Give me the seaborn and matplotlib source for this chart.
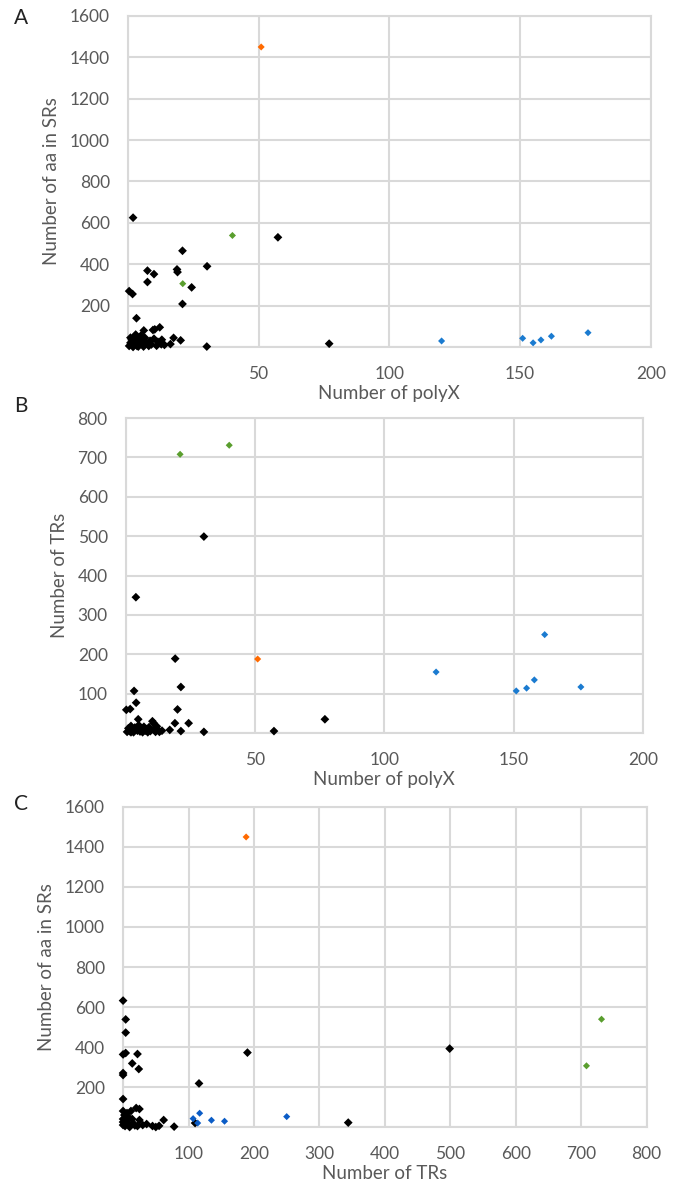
import numpy as np
import pandas as pd
import matplotlib as mpl
import matplotlib.pyplot as plt
import seaborn as sns

# coloured proteins, same in all three panels
orange_polyx = [51]
orange_trs = [188]
orange_aa = [1450]

green_polyx = [21, 40]
green_trs = [708, 731]
green_aa = [306, 539]

blue_polyx = [120, 151, 155, 158, 162, 176]
blue_trs = [155, 107, 114, 135, 250, 117]
blue_aa = [29, 42, 20, 34, 52, 69]

# black points, read per panel
a_polyx = [2, 57.4, 20.9, 30.3, 7.5, 10, 18.8, 19, 7.5, 24.4, 20.9, 0.5, 1.8, 3.3, 6.1,
           9.6, 10.3, 12.2, 17.5, 20.2, 16.3, 12.8, 30.2, 77,
           0.5, 1, 1.5, 2, 2.5, 3, 3.5, 4, 4.5, 5, 5.5, 6, 6.5, 7, 8, 8.5, 9, 10, 11,
           11.5, 13, 14, 3, 1, 2, 4, 6]
a_aa = [625, 530, 465, 390, 369, 352, 375, 362, 314, 288, 208, 270, 256, 139, 80,
        82, 85, 95, 44, 32, 14, 13, 2, 16,
        5, 20, 35, 10, 50, 25, 5, 40, 15, 55, 30, 8, 45, 20, 5, 30, 12, 40, 6,
        25, 35, 10, 60, 45, 0, 2, 2]

b_polyx = [30.2, 3.9, 19.1, 3.2, 21.3, 4, 0.2, 1.7, 20, 4.8, 10.3, 10.8, 19, 24.3,
           17, 21.3, 30.2, 57.3, 77,
           0.5, 1, 1.5, 2, 2.5, 3, 3.5, 4.5, 5, 5.5, 6, 6.5, 7, 7.5, 8, 8.5, 9, 9.5,
           11, 11.5, 12, 12.5, 13, 14, 2, 6]
b_trs = [499, 345, 189, 107, 117, 77, 59, 61, 60, 35, 30, 25, 25, 25,
         8, 5, 3, 5, 35,
         3, 12, 5, 18, 8, 2, 14, 6, 20, 4, 12, 2, 16, 6, 10, 2, 15, 5,
         10, 3, 17, 8, 3, 6, 2, 6]

c_trs = [0, 4, 4, 0, 4, 22, 14, 24, 0, 0, 190, 116, 0, 55, 62, 78, 25, 36, 110, 499, 344,
         20, 25, 12, 0, 2, 8, 0, 5, 15, 0, 3, 10, 18, 22, 0, 6, 14, 2, 9, 30, 45, 50]
c_aa = [632, 538, 472, 363, 370, 365, 318, 290, 270, 260, 372, 218, 140, 6, 35, 2, 35, 15, 20, 392, 22,
        95, 90, 80, 80, 60, 50, 40, 30, 20, 10, 5, 0, 8, 5, 25, 70, 40, 15, 12, 10, 5, 0]

colors = {"black": "#000000", "orange": "#FF6A00", "green": "#5A9E2E", "blue": "#1B7BD0"}
sizes = {"black": 20, "orange": 13, "green": 13, "blue": 13}
grey = "#D9D9D9"
text_grey = "#595959"


def build_frame(black_x, black_y, ox, oy, gx, gy, bx, by):
    return pd.concat([pd.DataFrame({"x": black_x, "y": black_y, "group": "black"}),
                      pd.DataFrame({"x": ox, "y": oy, "group": "orange"}),
                      pd.DataFrame({"x": gx, "y": gy, "group": "green"}),
                      pd.DataFrame({"x": bx, "y": by, "group": "blue"})], ignore_index=True)


def draw_panel(ax, df, xmax, xstep, ymax, ystep, xlabel, ylabel, blue_color):
    pal = dict(colors)
    pal["blue"] = blue_color
    sns.scatterplot(data=df, x="x", y="y", hue="group", palette=pal, size="group",
                    sizes=sizes, marker="D", linewidth=0, legend=False, ax=ax,
                    clip_on=False, zorder=3)
    ax.set_xlim(0, xmax)
    ax.set_ylim(0, ymax)
    xt = np.arange(0, xmax + 1, xstep)
    yt = np.arange(0, ymax + 1, ystep)
    ax.set_xticks(xt)
    ax.set_yticks(yt)
    ax.set_xticklabels([""] + [str(int(v)) for v in xt[1:]])
    ax.set_yticklabels([""] + [str(int(v)) for v in yt[1:]])
    ax.grid(True, color=grey, linewidth=1.5)
    ax.set_axisbelow(True)
    for sp in ax.spines.values():
        sp.set_color(grey)
        sp.set_linewidth(1.5)
    ax.tick_params(length=0, labelsize=12.5, colors=text_grey)
    ax.tick_params(axis="x", pad=14)
    ax.tick_params(axis="y", pad=13)
    ax.set_xlabel(xlabel, fontsize=13.5, color=text_grey, labelpad=2)
    ax.set_ylabel(ylabel, fontsize=13.5, color=text_grey, labelpad=7)


sns.set_style("white")
mpl.rcParams["font.family"] = ["Lato", "DejaVu Sans"]

fig = plt.figure(figsize=(6.8, 11.81), dpi=100)
ax_a = fig.add_axes([0.188, 0.7062, 0.769, 0.2803])
ax_b = fig.add_axes([0.185, 0.3793, 0.7605, 0.2667])
ax_c = fig.add_axes([0.181, 0.0457, 0.770, 0.2710])

df_a = build_frame(a_polyx, a_aa, orange_polyx, orange_aa, green_polyx, green_aa, blue_polyx, blue_aa)
df_b = build_frame(b_polyx, b_trs, orange_polyx, orange_trs, green_polyx, green_trs, blue_polyx, blue_trs)
df_c = build_frame(c_trs, c_aa, orange_trs, orange_aa, green_trs, green_aa, blue_trs, blue_aa)

draw_panel(ax_a, df_a, 200, 50, 1600, 200, "Number of polyX", "Number of aa in SRs", "#1B7BD0")
draw_panel(ax_b, df_b, 200, 50, 800, 100, "Number of polyX", "Number of TRs", "#1B7BD0")
draw_panel(ax_c, df_c, 800, 100, 1600, 200, "Number of TRs", "Number of aa in SRs", "#0B5CC6")

for letter, ypix in [("A", 18), ("B", 406), ("C", 804)]:
    fig.text(14 / 680, 1 - ypix / 1181, letter, fontsize=15, color="#222222",
             ha="left", va="center")

plt.savefig("out.png", dpi=100)
plt.close()
